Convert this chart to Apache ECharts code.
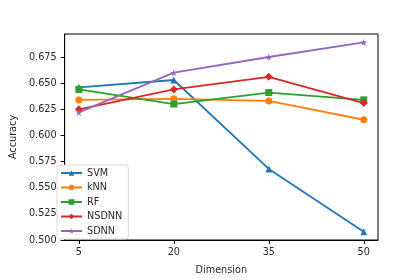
<!DOCTYPE html>
<html><head><meta charset="utf-8">
<script src="https://cdn.jsdelivr.net/npm/echarts@6/dist/echarts.min.js"></script>
<style>html,body{margin:0;padding:0;background:#fff}#c{width:420px;height:280px}</style>
</head><body><div id="c"></div>
<script>
const dims = [5, 20, 35, 50];
const svm   = [0.646, 0.653, 0.568, 0.508];
const knn   = [0.634, 0.635, 0.633, 0.615];
const rf    = [0.644, 0.630, 0.641, 0.634];
const nsdnn = [0.625, 0.644, 0.656, 0.631];
const sdnn  = [0.622, 0.660, 0.675, 0.689];
const yTicks = [0.500, 0.525, 0.550, 0.575, 0.600, 0.625, 0.650, 0.675];
const names = ['SVM', 'kNN', 'RF', 'NSDNN', 'SDNN'];

const colors = ['#1f77b4', '#ff7f0e', '#2ca02c', '#d62728', '#9467bd'];
const star = 'path://M50,0 L61,35 L98,35 L68,57 L79,91 L50,70 L21,91 L32,57 L2,35 L39,35 Z';
const symbols = ['triangle', 'circle', 'rect', 'diamond', star];
const sizes = [7, 7, 7, 8, 7];
const allData = [svm, knn, rf, nsdnn, sdnn];
const font = 'DejaVu Sans';

const series = names.map((n, i) => ({
  name: n, type: 'line',
  data: dims.map((d, j) => [d, allData[i][j]]),
  symbol: symbols[i], symbolSize: sizes[i], showSymbol: true,
  lineStyle: { color: colors[i], width: 1.8 },
  itemStyle: { color: colors[i] },
  emphasis: { disabled: true },
  animation: false
}));

const chart = echarts.init(document.getElementById('c'), null, { renderer: 'canvas' });
chart.setOption({
  animation: false,
  grid: { left: 53, right: 42, top: 34, bottom: 36, show: true, borderColor: '#000', borderWidth: 1 },
  xAxis: {
    type: 'value', min: 2.75, max: 52.25,
    name: 'Dimension', nameLocation: 'middle', nameGap: 25,
    nameTextStyle: { fontFamily: font, fontSize: 9.7, color: '#262626' },
    axisLine: { show: true, lineStyle: { color: '#000', width: 1 } },
    axisTick: { show: true, inside: false, length: 4, customValues: dims, lineStyle: { color: '#000' } },
    axisLabel: { customValues: dims, margin: 7, fontFamily: font, fontSize: 9.7, color: '#262626' },
    splitLine: { show: false }
  },
  yAxis: {
    type: 'value', min: 0.5, max: 0.697,
    name: 'Accuracy', nameLocation: 'middle', nameGap: 44,
    nameTextStyle: { fontFamily: font, fontSize: 9.7, color: '#262626' },
    axisLine: { show: true, lineStyle: { color: '#000', width: 1 } },
    axisTick: { show: true, inside: false, length: 4, customValues: yTicks, lineStyle: { color: '#000' } },
    axisLabel: { customValues: yTicks, margin: 8, fontFamily: font, fontSize: 9.7, color: '#262626',
      formatter: v => v.toFixed(3) },
    splitLine: { show: false }
  },
  legend: {
    orient: 'vertical', left: 57, top: 165,
    data: names,
    itemWidth: 21, itemHeight: 7, itemGap: 4.5,
    backgroundColor: '#fff', borderColor: '#d9d9d9', borderWidth: 1, borderRadius: 3,
    padding: [3, 6, 3, 3],
    textStyle: { fontFamily: font, fontSize: 9.7, color: '#262626' }
  },
  series: series
});
</script></body></html>
